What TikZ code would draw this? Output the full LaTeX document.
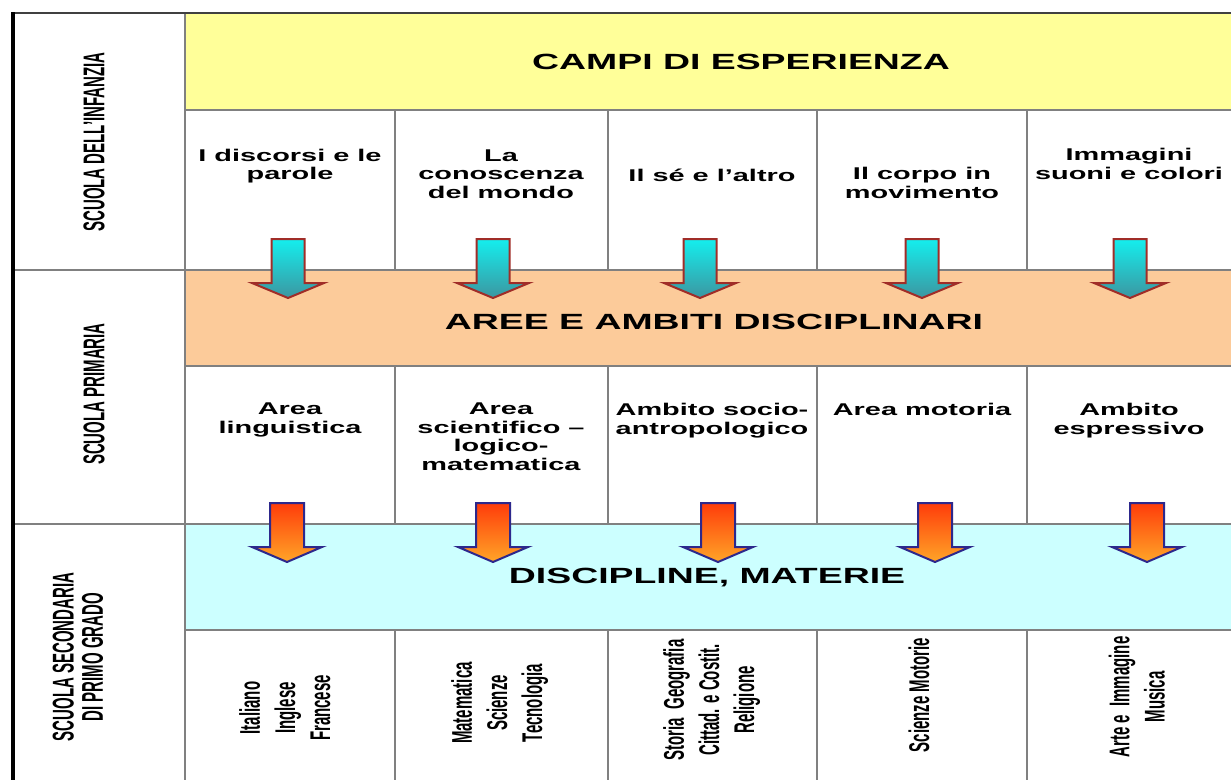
\documentclass[tikz,border=0pt]{standalone}
\usepackage{fontspec}
\usepackage{graphicx}
\setmainfont{Liberation Sans}
\newfontfamily\wideb[FakeStretch=1.7]{Liberation Sans}
\definecolor{bandyellow}{HTML}{FFFF99}
\definecolor{bandorange}{HTML}{FCCB9A}
\definecolor{bandcyan}{HTML}{CCFFFF}
\definecolor{gridgray}{HTML}{808080}
\definecolor{darkframe}{HTML}{404040}
\definecolor{arrowred}{RGB}{160,45,40}
\definecolor{arrowblue}{RGB}{45,40,140}
\definecolor{cyantop}{RGB}{20,238,238}
\definecolor{cyanbot}{RGB}{60,150,160}
\definecolor{orangetop}{RGB}{255,60,10}
\definecolor{orangebot}{RGB}{255,165,40}
\newcommand\rotlabel[2]{\rotatebox{90}{\scalebox{1}[#1]{\begin{tabular}{@{}c@{}}#2\end{tabular}}}}
\tikzset{
  gridline/.style={draw=gridgray, line width=1.5},
  bandtitle/.style={font=\wideb\bfseries\fontsize{22}{26}\selectfont, inner sep=0},
  celltext/.style={font=\wideb\bfseries\fontsize{17}{18.5}\selectfont, align=center, inner sep=0},
  headtext/.style={font=\bfseries\fontsize{15}{14}\selectfont, inner sep=0},
  subjtext/.style={font=\bfseries\fontsize{15}{18.5}\selectfont, inner sep=0},
  cyanarrowstyle/.style={draw=arrowred, line width=2, line join=miter, top color=cyantop, bottom color=cyanbot},
  orangearrowstyle/.style={draw=arrowblue, line width=2, line join=miter, top color=orangetop, bottom color=orangebot},
  cyanarrow/.pic={\path[cyanarrowstyle] (-16.5,-29.5) -- (16.5,-29.5) -- (16.5,14.5) -- (36,14.5) -- (0,29.5) -- (-36,14.5) -- (-16.5,14.5) -- cycle;},
  orangearrow/.pic={\path[orangearrowstyle] (-17,-29.5) -- (17,-29.5) -- (17,14.5) -- (35,14.5) -- (0,29.5) -- (-35,14.5) -- (-17,14.5) -- cycle;}
}
\begin{document}
\begin{tikzpicture}[x=1pt,y=-1pt]
\useasboundingbox (0,0) rectangle (1231,780);
\fill[white] (0,0) rectangle (1231,780);
% bands
\fill[bandyellow] (185,13) rectangle (1231,110);
\fill[bandorange] (185,270) rectangle (1231,366);
\fill[bandcyan] (185,524) rectangle (1231,630);
% grid lines
\foreach \yy in {110,270,366,524,630} \draw[gridline] (185,\yy) -- (1231,\yy);
\foreach \yy in {270,524} \draw[gridline] (13,\yy) -- (185,\yy);
\draw[gridline] (185,13) -- (185,780);
\foreach \xx in {395,608,817,1027} {
  \draw[gridline] (\xx,110) -- (\xx,270);
  \draw[gridline] (\xx,366) -- (\xx,524);
  \draw[gridline] (\xx,630) -- (\xx,780);
}
\draw[darkframe, line width=2] (13,13) -- (1231,13);
\draw[black, line width=3.5] (13,12) -- (13,780);
% left headers
\node[headtext] (h1) at (98,142) {\rotlabel{2.0}{SCUOLA DELL'INFANZIA}};
\node[headtext] (h2) at (98,394) {\rotlabel{2.0}{SCUOLA PRIMARIA}};
\node[headtext] (h3) at (82,657) {\rotlabel{2.0}{SCUOLA SECONDARIA\\DI PRIMO GRADO}};
% band titles
\node[bandtitle] (t1) at (741,62) {CAMPI DI ESPERIENZA};
\node[bandtitle] (t2) at (714,322) {AREE E AMBITI DISCIPLINARI};
\node[bandtitle] (t3) at (707,578) {DISCIPLINE, MATERIE};
% row 1 texts
\node[celltext] (c11) at (290,166) {I discorsi e le\\parole};
\node[celltext] (c12) at (501,174) {La\\conoscenza\\del mondo};
\node[celltext] (c13) at (712,175) {Il sé e l’altro};
\node[celltext] (c14) at (922,183) {Il corpo in\\movimento};
\node[celltext] (c15) at (1129,164) {Immagini\\suoni e colori};
% row 2 texts
\node[celltext, anchor=north] (c21) at (290,403) {Area\\linguistica};
\node[celltext, anchor=north] (c22) at (501,403) {Area\\scientifico –\\logico-\\matematica};
\node[celltext, anchor=north] (c23) at (712,403) {Ambito socio-\\antropologico};
\node[celltext, anchor=north] (c24) at (922,403) {Area motoria};
\node[celltext, anchor=north] (c25) at (1129,403) {Ambito\\espressivo};
% row 3 texts
\node[subjtext] (c31) at (288,708) {\rotlabel{1.9}{Italiano\\Inglese\\Francese}};
\node[subjtext] (c32) at (500,703) {\rotlabel{1.9}{Matematica\\Scienze\\Tecnologia}};
\node[subjtext] (c33) at (712,700) {\rotlabel{1.9}{Storia\ \ Geografia\\Cittad. e Costit.\\Religione}};
\node[subjtext] (c34) at (922,695) {\rotlabel{1.9}{Scienze Motorie}};
\node[subjtext] (c35) at (1140,697) {\rotlabel{1.9}{Arte e\ \ Immagine\\Musica}};
% arrows
\pic (a1) at (288,268.5) {cyanarrow};
\pic (a2) at (493,268.5) {cyanarrow};
\pic (a3) at (700,268.5) {cyanarrow};
\pic (a4) at (922,268.5) {cyanarrow};
\pic (a5) at (1130,268.5) {cyanarrow};
\pic (b1) at (287,532.5) {orangearrow};
\pic (b2) at (493,532.5) {orangearrow};
\pic (b3) at (718,532.5) {orangearrow};
\pic (b4) at (935,532.5) {orangearrow};
\pic (b5) at (1147,532.5) {orangearrow};
\end{tikzpicture}
\end{document}
